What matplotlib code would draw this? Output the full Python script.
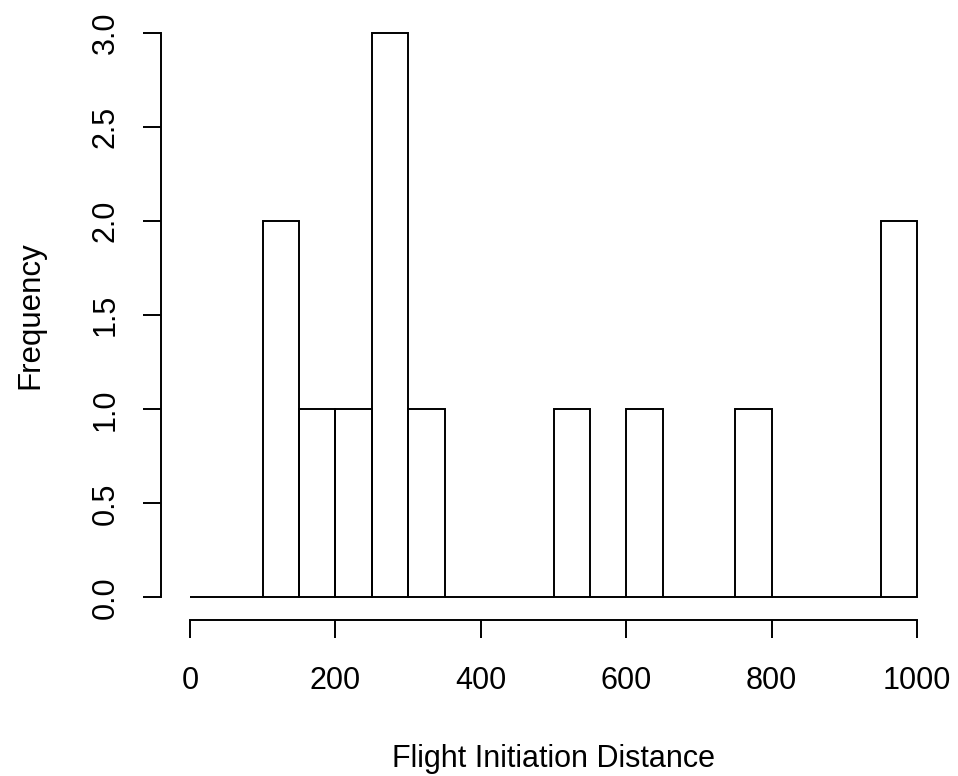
import numpy as np
import matplotlib.pyplot as plt

plt.rcParams['font.family'] = ['Liberation Sans', 'DejaVu Sans']

# histogram counts, 50-wide bins from 0 to 1000
bin_edges = np.arange(0, 1001, 50)
counts = [0, 0, 2, 1, 1, 3, 1, 0, 0, 0, 1, 0, 1, 0, 0, 1, 0, 0, 0, 2]
x_ticks = [0, 200, 400, 600, 800, 1000]
y_ticks = [0.0, 0.5, 1.0, 1.5, 2.0, 2.5, 3.0]

fig = plt.figure(figsize=(9.58, 7.76), dpi=100)
ax = fig.add_axes([0.1681, 0.2010, 0.8194, 0.7854])

ax.bar(bin_edges[:-1], counts, width=50, align='edge', fill=False,
       edgecolor='black', linewidth=1.4)

# R-style axis extents (4% padding)
ax.set_xlim(-40, 1040)
ax.set_ylim(-0.12, 3.12)

for s in ['top', 'right']:
    ax.spines[s].set_visible(False)
ax.spines['left'].set_bounds(0, 3)
ax.spines['bottom'].set_bounds(0, 1000)
for s in ['left', 'bottom']:
    ax.spines[s].set_linewidth(1.4)

ax.set_xticks(x_ticks)
ax.set_xticklabels([str(v) for v in x_ticks])
ax.set_yticks(y_ticks)
ax.set_yticklabels(['%.1f' % v for v in y_ticks], rotation=90, va='center')
ax.tick_params(axis='both', length=13, width=1.4, labelsize=22)
ax.tick_params(axis='x', pad=20)
ax.tick_params(axis='y', pad=16)

ax.set_xlabel('Flight Initiation Distance', fontsize=22, labelpad=35)
ax.set_ylabel('Frequency', fontsize=22.5, labelpad=33)

plt.savefig('out.png', dpi=100)
